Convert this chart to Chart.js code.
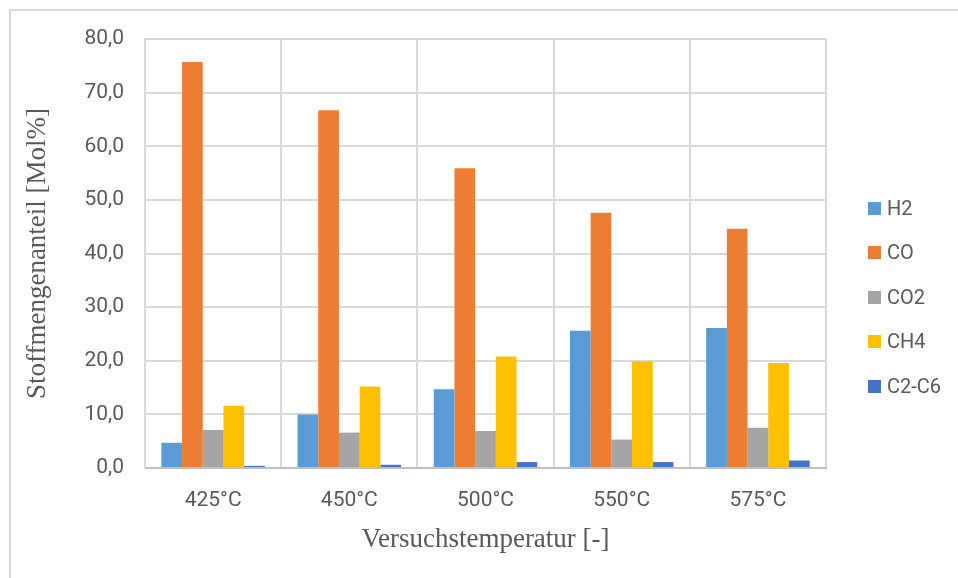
<!DOCTYPE html>
<html>
<head>
<meta charset="utf-8">
<script src="https://cdn.jsdelivr.net/npm/chart.js@4"></script>
<style>
  body { margin: 0; background: #fff; }
  #wrap { position: relative; width: 958px; height: 578px; }
  #frame { position: absolute; left: 9px; top: 9px; right: 0; bottom: 0;
           border-left: 2px solid #d9d9d9; border-top: 2px solid #d9d9d9; }
  #legend { position: absolute; left: 868px; top: 0; font-family: Roboto, sans-serif;
            font-size: 20px; color: #595959; }
  #legend div { position: absolute; white-space: nowrap; line-height: 20px; }
  #legend span { display: inline-block; width: 13px; height: 13px; margin-right: 6px; vertical-align: 0px; }
</style>
</head>
<body>
<div id="wrap">
  <div id="frame"></div>
  <canvas id="gasChart" width="958" height="578"></canvas>
  <div id="legend"></div>
</div>
<script>
var temps = ['425°C', '450°C', '500°C', '550°C', '575°C'];
var gasNames = ['H2', 'CO', 'CO2', 'CH4', 'C2-C6'];
var gasColors = ['#5B9BD5', '#ED7D31', '#A5A5A5', '#FFC000', '#4472C4'];

var h2   = [4.7, 10.0, 14.7, 25.6, 26.1];
var co   = [75.7, 66.7, 55.9, 47.6, 44.6];
var co2  = [7.1, 6.6, 6.9, 5.3, 7.5];
var ch4  = [11.6, 15.2, 20.8, 19.9, 19.6];
var c2c6 = [0.4, 0.6, 1.1, 1.1, 1.4];

var seriesValues = [h2, co, co2, ch4, c2c6];

var datasets = [];
for (var i = 0; i < gasNames.length; i++) {
    datasets.push({
        label: gasNames[i],
        data: seriesValues[i],
        backgroundColor: gasColors[i],
        borderWidth: 0,
        barPercentage: 1.0,
        categoryPercentage: 0.76
    });
}

var tickFont = { family: 'Roboto', size: 21 };
var serifFont = { family: 'Liberation Serif', size: 27 };

var ctx = document.getElementById('gasChart').getContext('2d');
var gasChart = new Chart(ctx, {
    type: 'bar',
    data: { labels: temps, datasets: datasets },
    options: {
        responsive: false,
        animation: false,
        layout: { padding: { left: 22, top: 39, right: 132, bottom: 0 } },
        plugins: {
            legend: { display: false },
            tooltip: { enabled: false }
        },
        scales: {
            x: {
                grid: { color: '#d9d9d9', lineWidth: 2, drawTicks: false, offset: true },
                border: { color: '#bfbfbf', width: 2 },
                ticks: { color: '#595959', font: tickFont, padding: 20 },
                title: { display: true, text: 'Versuchstemperatur [-]', color: '#595959',
                         font: serifFont, padding: { top: 0, bottom: 22 } },
                afterFit: function(axis) { axis.height = 110; }
            },
            y: {
                min: 0, max: 80,
                grid: { color: '#d9d9d9', lineWidth: 2, drawTicks: false },
                border: { color: '#d9d9d9', width: 2 },
                ticks: {
                    stepSize: 10, color: '#595959', font: tickFont, padding: 21,
                    callback: function(v) { return v.toFixed(1).replace('.', ','); }
                },
                title: { display: true, text: 'Stoffmengenanteil [Mol%]', color: '#595959',
                         font: serifFont, padding: 0 },
                afterFit: function(axis) { axis.width = 123; }
            }
        }
    }
});

// legend as html, built from the same arrays
var legendTops = [208, 252, 297, 341, 386];
var legendEl = document.getElementById('legend');
for (var j = 0; j < gasNames.length; j++) {
    var item = document.createElement('div');
    item.style.top = (legendTops[j] - 10) + 'px';
    item.innerHTML = '<span style="background:' + gasColors[j] + '"></span>' + gasNames[j];
    legendEl.appendChild(item);
}
</script>
</body>
</html>
